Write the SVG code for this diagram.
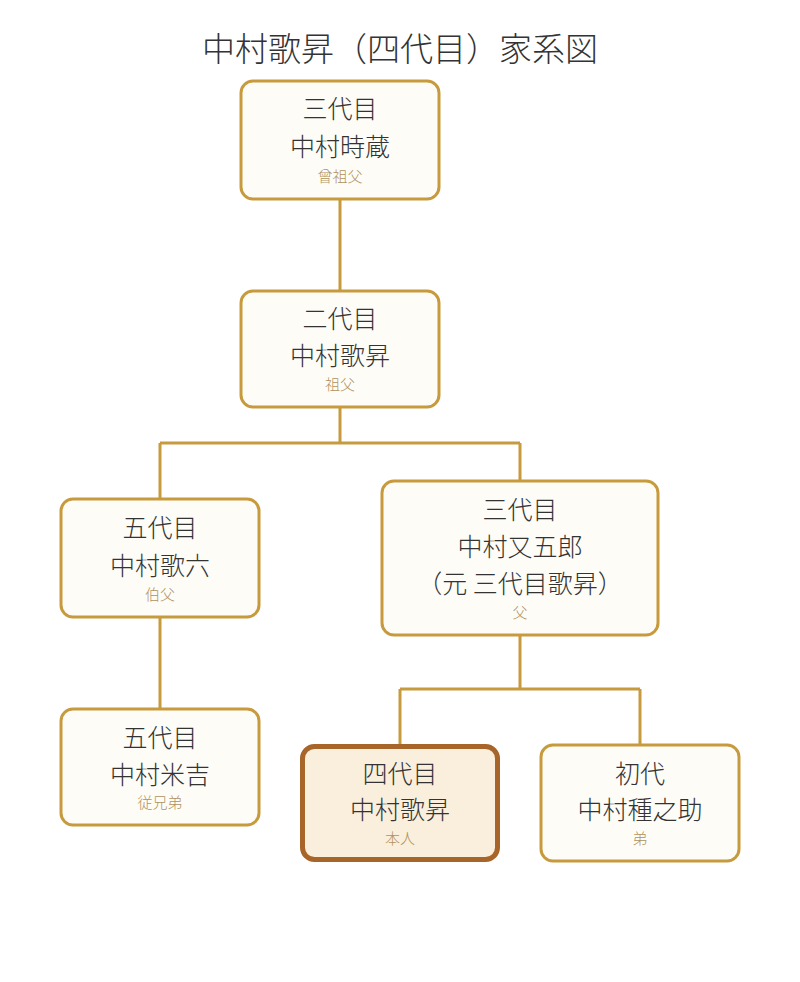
<svg xmlns="http://www.w3.org/2000/svg" width="800" height="982" viewBox="0 0 800 982">
<style>
text{font-family:"Noto Sans CJK JP","Noto Sans",sans-serif;font-weight:300;text-anchor:middle;fill:#333}
.b{fill:#fefcf6;stroke:#c89a3e;stroke-width:3}
.s{fill:#b09260;font-size:15px}
.m{font-size:25px}
.c path{fill:none;stroke:#c89a3e;stroke-width:3}
</style>
<rect width="800" height="982" fill="#fff"/>
<text x="400" y="61" font-size="33">中村歌昇（四代目）家系図</text>
<g class="c">
<path d="M340 199V291M340 407V443M160 443H520M160 443V499M520 443V481M160 617V709M520 635V689M400 689H640M400 689V745M640 689V745"/>
</g>
<g id="n1"><rect class="b" x="241" y="81" width="198" height="118" rx="12"/><text class="m" x="340" y="118">三代目</text><text class="m" x="340" y="156">中村時蔵</text><text class="s" x="340" y="182">曾祖父</text></g>
<g id="n2"><rect class="b" x="241" y="291" width="198" height="116" rx="12"/><text class="m" x="340" y="328">二代目</text><text class="m" x="340" y="365">中村歌昇</text><text class="s" x="340" y="390">祖父</text></g>
<g id="n3"><rect class="b" x="61" y="499" width="198" height="118" rx="12"/><text class="m" x="160" y="537">五代目</text><text class="m" x="160" y="575">中村歌六</text><text class="s" x="160" y="600">伯父</text></g>
<g id="n4"><rect class="b" x="382" y="481" width="276" height="154" rx="12"/><text class="m" x="520" y="519">三代目</text><text class="m" x="520" y="556">中村又五郎</text><text class="m" x="520" y="593">（元 三代目歌昇）</text><text class="s" x="520" y="618">父</text></g>
<g id="n5"><rect class="b" x="61" y="709" width="198" height="116" rx="12"/><text class="m" x="160" y="747">五代目</text><text class="m" x="160" y="784">中村米吉</text><text class="s" x="160" y="808">従兄弟</text></g>
<g id="n6"><rect x="302.5" y="746.5" width="195" height="113" rx="12" fill="#faefdc" stroke="#a8652a" stroke-width="5"/><text class="m" x="400" y="783">四代目</text><text class="m" x="400" y="819">中村歌昇</text><text class="s" x="400" y="844">本人</text></g>
<g id="n7"><rect class="b" x="541" y="745" width="198" height="116" rx="12"/><text class="m" x="640" y="783">初代</text><text class="m" x="640" y="819">中村種之助</text><text class="s" x="640" y="844">弟</text></g>
</svg>
